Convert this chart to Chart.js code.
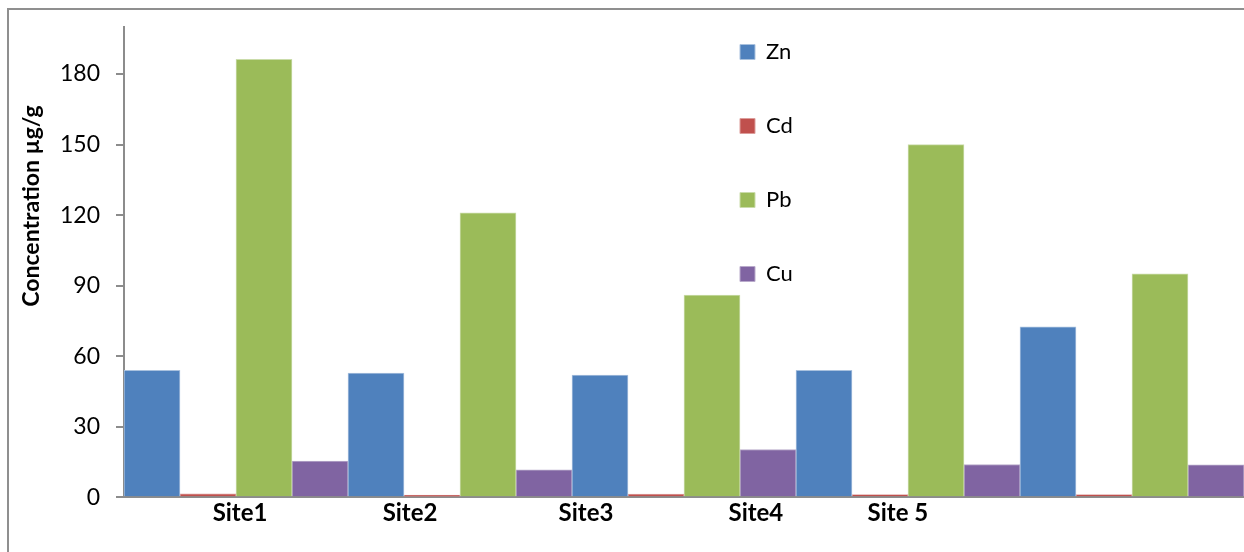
<!DOCTYPE html>
<html>
<head>
<meta charset="utf-8">
<script src="https://cdn.jsdelivr.net/npm/chart.js@4/dist/chart.umd.min.js"></script>
<style>
  html, body { margin: 0; padding: 0; background: #fff; overflow: hidden; }
  #wrap { position: relative; width: 1244px; height: 552px; }
  #frame { position: absolute; left: 7px; top: 8px; width: 1300px; height: 600px;
           border-left: 2px solid #8f8f8f; border-top: 2px solid #8f8f8f; box-sizing: border-box; }
  #c { position: absolute; left: 0; top: 0; }
</style>
</head>
<body>
<div id="wrap">
  <div id="frame"></div>
  <canvas id="c" width="1244" height="552"></canvas>
</div>
<script>
// Sampling sites and metal concentrations (µg/g)
const sites = ['Site1', 'Site2', 'Site3', 'Site4', 'Site 5'];
const zn = [54.0, 52.8, 51.9, 54.0, 72.5];
const cd = [1.4, 0.9, 1.3, 1.1, 1.1];
const pb = [186.3, 121.0, 86.0, 150.0, 95.0];
const cu = [15.4, 11.6, 20.3, 13.9, 13.8];

// Value-axis ticks
const yTicks = [0, 30, 60, 90, 120, 150, 180];

// Where each site caption sits along the bar groups (in group units)
const siteLabelPos = [0.518, 1.277, 2.0625, 2.821, 3.455];

const FONT = 'Lato, "Open Sans", "Liberation Sans", sans-serif';
const LEGEND_PAD = 52;

const yTitle = {
  id: 'yTitle',
  afterDraw(chart) {
    const ctx = chart.ctx;
    ctx.save();
    ctx.translate(32, 206);
    ctx.rotate(-Math.PI / 2);
    ctx.font = 'bold 23px ' + FONT;
    ctx.fillStyle = '#000';
    ctx.textAlign = 'center';
    ctx.textBaseline = 'middle';
    ctx.fillText('Concentration µg/g', 0, 0);
    ctx.restore();
  }
};

// Legend floats inside the plot, as a single column
const legendPlace = {
  id: 'legendPlace',
  afterLayout(chart) {
    const lg = chart.legend;
    const w = lg.width, h = chart.chartArea.bottom;
    lg.left = 740 - LEGEND_PAD; lg.top = -11;
    lg.right = lg.left + w; lg.bottom = lg.top + h;
    lg.height = h;
  }
};

new Chart(document.getElementById('c'), {
  type: 'bar',
  data: {
    labels: sites,
    datasets: [
      { label: 'Zn', data: zn, backgroundColor: '#4F81BD', borderColor: '#a9c1de', borderWidth: 1 },
      { label: 'Cd', data: cd, backgroundColor: '#C0504D', borderColor: '#dc9d9b', borderWidth: 1 },
      { label: 'Pb', data: pb, backgroundColor: '#9BBB59', borderColor: '#cadcaa', borderWidth: 1 },
      { label: 'Cu', data: cu, backgroundColor: '#8064A2', borderColor: '#b9aacb', borderWidth: 1 }
    ]
  },
  options: {
    responsive: false,
    animation: false,
    events: [],
    layout: { padding: { left: 0, top: 27, right: 0, bottom: 22 } },
    datasets: { bar: { categoryPercentage: 1.0, barPercentage: 1.0 } },
    plugins: {
      tooltip: { enabled: false },
      legend: {
        position: 'chartArea',
        align: 'start',
        labels: {
          boxWidth: 15, boxHeight: 15, padding: LEGEND_PAD,
          color: '#000',
          font: { family: FONT, size: 22 }
        }
      }
    },
    scales: {
      x: {
        type: 'category',
        position: 'bottom',
        grid: { display: false, drawTicks: false },
        border: { display: true, color: '#8c8c8c', width: 2 },
        ticks: { display: false }
      },
      site: {
        type: 'linear',
        position: 'bottom',
        offset: false,
        min: 0, max: 5,
        grid: { display: false, drawTicks: false, offset: false },
        border: { display: false },
        afterBuildTicks(scale) { scale.ticks = siteLabelPos.map(v => ({ value: v })); },
        ticks: {
          autoSkip: false, maxRotation: 0, padding: 2,
          color: '#000',
          font: { family: FONT, size: 24, weight: 'bold' },
          callback: (v, i) => sites[i]
        }
      },
      y: {
        min: 0, max: 200,
        afterBuildTicks(scale) { scale.ticks = yTicks.map(v => ({ value: v })); },
        afterFit(scale) {
          scale.width = 124;
          scale.paddingTop = 0;
          scale.paddingBottom = 0;
        },
        grid: { drawOnChartArea: false, color: '#8c8c8c', lineWidth: 2, tickLength: 8 },
        border: { display: true, color: '#8c8c8c', width: 2 },
        ticks: {
          padding: 16,
          color: '#000',
          font: { family: FONT, size: 23 }
        }
      }
    }
  },
  plugins: [yTitle, legendPlace]
});
</script>
</body>
</html>
